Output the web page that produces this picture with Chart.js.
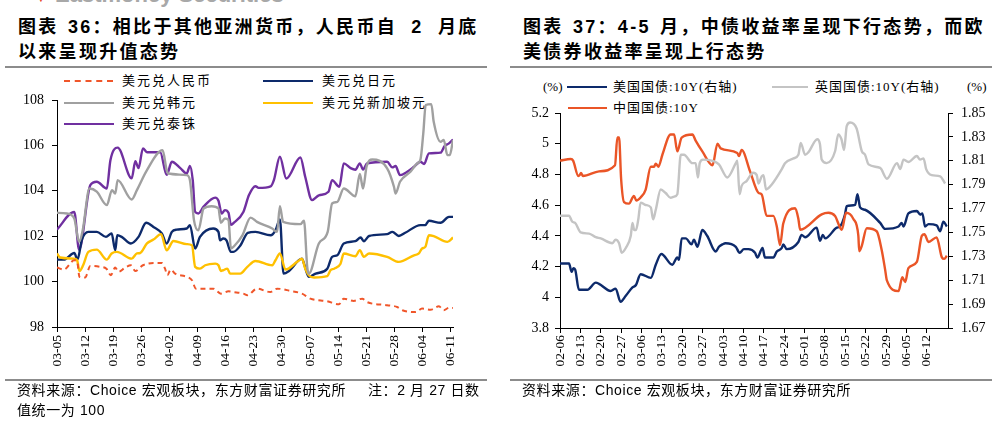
<!DOCTYPE html>
<html>
<head>
<meta charset="utf-8">
<script src="https://cdn.jsdelivr.net/npm/chart.js@4.4.1/dist/chart.umd.min.js"></script>
<style>
  body { margin: 0; background: #fff; }
  #page { position: relative; width: 997px; height: 422px; overflow: hidden; font-family: "Liberation Serif", "Noto Sans CJK SC", serif; color: #000; }
  .abs { position: absolute; white-space: nowrap; }
  .title { font-family: "Liberation Sans", "Noto Sans CJK SC", sans-serif; font-weight: bold; font-size: 18px; letter-spacing: 2.3px; word-spacing: 2px; line-height: 25px; }
  .gap { display: inline-block; width: 5px; }
  .rule { position: absolute; height: 2px; background: #8c8c8c; }
  .lg { position: absolute; font-size: 13px; letter-spacing: 2px; line-height: 16px; height: 16px; white-space: nowrap; }
  .sw { position: absolute; height: 0; }
  .src { font-family: "Liberation Sans", "Noto Sans CJK SC", sans-serif; font-size: 14px; letter-spacing: 0.6px; line-height: 18px; }
  canvas { position: absolute; top: 0; }
</style>
</head>
<body>
<div id="page">
  <div class="abs" style="left:36px;top:-7px;color:#e8452c;font-size:10px;">&#9660;</div>
  <div class="abs" style="left:55px;top:-18px;color:#a8a8a8;font:bold 22px 'Liberation Sans',sans-serif;">Eastmoney Securities</div>

  <div class="abs title" style="left:18px;top:15px;">图表 36：相比于其他亚洲货币，人民币自<span class="gap"></span> 2 <span class="gap"></span>月底<br>以来呈现升值态势</div>
  <div class="abs title" style="left:523px;top:15px;">图表 37：4-5 月，中债收益率呈现下行态势，而欧<br>美债券收益率呈现上行态势</div>
  <div class="rule" style="left:5px;top:66px;width:482px;"></div>
  <div class="rule" style="left:510px;top:66px;width:482px;"></div>

  <!-- left legend -->
  <div class="sw" style="left:64px;top:80px;width:49px;border-top:2px dashed #f0562a;"></div>
  <div class="lg" style="left:122px;top:73px;">美元兑人民币</div>
  <div class="sw" style="left:263px;top:80px;width:50px;border-top:2.5px solid #0d2a6b;"></div>
  <div class="lg" style="left:322px;top:73px;">美元兑日元</div>
  <div class="sw" style="left:64px;top:102px;width:50px;border-top:2.5px solid #a0a0a0;"></div>
  <div class="lg" style="left:122px;top:95px;">美元兑韩元</div>
  <div class="sw" style="left:263px;top:102px;width:50px;border-top:2.5px solid #ffc000;"></div>
  <div class="lg" style="left:322px;top:95px;">美元兑新加坡元</div>
  <div class="sw" style="left:64px;top:123px;width:50px;border-top:2.5px solid #7030a0;"></div>
  <div class="lg" style="left:122px;top:116px;">美元兑泰铢</div>

  <!-- right legend -->
  <div class="lg" style="left:543px;top:79px;letter-spacing:0;">(%)</div>
  <div class="sw" style="left:567px;top:86px;width:40px;border-top:2.5px solid #0d2a6b;"></div>
  <div class="lg" style="left:613px;top:79px;letter-spacing:1px;">美国国债:10Y(右轴)</div>
  <div class="sw" style="left:772px;top:86px;width:36px;border-top:2.5px solid #c4c4c4;"></div>
  <div class="lg" style="left:815px;top:79px;letter-spacing:1px;">英国国债:10Y(右轴)</div>
  <div class="lg" style="left:967px;top:79px;letter-spacing:0;">(%)</div>
  <div class="sw" style="left:568px;top:107px;width:39px;border-top:2.5px solid #ea5527;"></div>
  <div class="lg" style="left:613px;top:100px;letter-spacing:1px;">中国国债:10Y</div>

  <canvas id="leftChart" width="497" height="422" style="left:0;"></canvas>
  <canvas id="rightChart" width="497" height="422" style="left:500px;"></canvas>

  <div class="rule" style="left:5px;top:379px;width:482px;"></div>
  <div class="rule" style="left:510px;top:379px;width:482px;"></div>
  <div class="abs src" style="left:17px;top:381px;">资料来源：Choice 宏观板块，东方财富证券研究所</div>
  <div class="abs src" style="left:368px;top:381px;">注：2 月 27 日数</div>
  <div class="abs src" style="left:17px;top:401px;">值统一为 100</div>
  <div class="abs src" style="left:522px;top:381px;">资料来源：Choice 宏观板块，东方财富证券研究所</div>
</div>

<script>
// ---- left chart: day offset from 03-05, index (2/27 = 100)
const leftTickLabels = ['03-05','03-12','03-19','03-26','04-02','04-09','04-16','04-23','04-30','05-07','05-14','05-21','05-28','06-04','06-11']
const leftYTicks = [98, 100, 102, 104, 106, 108]

const cnyPts = [[0,100.62],[1.7,100.53],[4.3,100.94],[5.0,100.9],[5.6,100.21],[7,100.18],[8.3,100.69],[10.8,100.65],[12.3,100.57],[13.4,100.28],[14.5,100.62],[15.3,100.43],[17,100.62],[18.4,100.72],[19.5,100.47],[21.4,100.72],[24,100.82],[26.1,100.82],[26.9,100.57],[27.5,100.28],[28.3,100.53],[29.4,100.35],[32.3,100.21],[33.6,100.06],[34.6,99.69],[36.5,99.69],[38.9,99.69],[40.8,99.47],[42.7,99.57],[43.9,99.54],[46.4,99.47],[47.4,99.4],[49.8,99.69],[53.1,99.54],[54.8,99.69],[58.1,99.59],[61,99.47],[63.1,99.25],[67.3,99.13],[70.2,99.0],[71.4,99.25],[73.9,99.15],[76,99.25],[77.2,99.1],[82.2,98.96],[84.7,98.88],[86,98.74],[89.3,98.66],[90.9,98.81],[93,98.76],[95.1,98.91],[96.3,98.74],[97.6,98.85],[98.6,98.84]]

const jpyPts = [[0,100.97],[1.7,100.97],[4.3,101.26],[5.1,100.97],[6.2,101.85],[7.8,102.19],[9.9,102.19],[12.2,101.97],[13.6,102.12],[14.5,101.38],[15,102.04],[16.1,101.97],[18.4,101.68],[20.3,101.97],[22.2,102.59],[24,102.41],[26.1,102.12],[27.3,101.68],[28.6,102.19],[29.8,102.29],[32.3,102.34],[33.1,102.49],[34.4,101.46],[35.6,101.97],[38.9,102.34],[40.2,102.19],[40.6,101.82],[41.4,101.9],[42.2,101.82],[43.3,101.31],[43.9,101.31],[45.7,101.6],[47.5,102.15],[49.4,102.19],[53.2,102.04],[54.4,102.26],[55.5,102.74],[56.4,100.35],[57.7,100.46],[61,101.01],[61.5,100.79],[62.7,100.21],[64.4,100.35],[67.3,100.57],[68.5,101.09],[69.8,101.16],[71.4,101.68],[74.3,101.78],[75.6,101.94],[76.4,101.78],[77.7,102.01],[82.2,102.09],[83.5,102.19],[85.1,102.01],[86.7,102.15],[90.5,102.49],[91.7,102.49],[92.6,102.68],[95.5,102.59],[97.6,102.85],[98.6,102.85]]

const krwPts = [[0,103.03],[2.5,103.0],[4.3,102.78],[5.5,101.75],[6.4,102.26],[8.1,104.1],[9.9,103.96],[12.4,103.37],[13.7,104.03],[14.5,103.88],[15.1,104.47],[18.6,103.62],[19.9,104.03],[22.4,104.91],[26.3,105.79],[27.3,104.91],[27.7,104.76],[32.3,104.69],[33.1,104.47],[34.1,102.71],[35.2,102.26],[36.5,103.22],[38.5,103.32],[40.2,103.22],[40.8,102.59],[41.8,102.78],[42.7,102.71],[43.3,101.46],[44.3,101.6],[46.2,102.05],[48.2,102.82],[49.8,102.63],[53.6,102.34],[54.8,102.19],[55.5,103.32],[56.3,102.63],[60.6,102.53],[61.5,102.68],[62.3,100.65],[62.7,100.35],[65.2,101.68],[67.4,102.19],[68.5,103.44],[69.8,103.51],[71.4,104.1],[74.3,103.76],[75.4,104.74],[76.2,104.1],[77.1,105.09],[78.5,105.38],[82.2,104.99],[83.9,104.18],[84.3,103.88],[85.4,104.4],[88,104.84],[89.7,105.21],[90.5,105.38],[91.2,106.53],[91.8,107.78],[93.2,107.82],[93.8,107.04],[95.5,106.16],[96.3,106.24],[97.2,105.57],[97.8,105.57],[98.6,106.24]]

const sgdPts = [[0,101.24],[0.8,101.06],[4.2,101.01],[5.0,100.94],[5.6,100.47],[6.5,100.72],[7.8,101.31],[9.9,101.41],[12.4,100.97],[13.6,101.24],[14.9,101.31],[18.6,101.01],[19.9,101.24],[20.7,101.26],[22.4,101.68],[24,101.85],[25.9,102.09],[27.3,101.38],[29,101.79],[32.3,101.65],[33.6,101.6],[34.4,100.65],[35.6,100.57],[36.9,100.72],[39.4,100.79],[40.2,100.72],[40.8,100.47],[41.4,100.5],[42.4,100.57],[43.1,100.35],[45.6,100.35],[47.4,100.65],[49.4,100.91],[53.6,100.72],[54.4,100.94],[55.5,101.24],[56.9,100.53],[59.8,100.87],[61,101.01],[61.8,100.57],[62.7,100.28],[64,100.18],[67.3,100.24],[68.1,100.5],[69,100.57],[70.6,100.79],[71.4,101.24],[74.3,101.12],[75.4,101.38],[76.4,101.09],[77.7,101.24],[82.2,101.09],[85.1,100.87],[88.9,101.16],[90.1,101.24],[90.9,101.46],[91.7,101.53],[92.6,102.04],[93.8,102.0],[97.2,101.75],[98.6,101.94]]

const thbPts = [[0,102.29],[4.3,103.07],[5.5,101.4],[8.3,104.25],[9.9,104.4],[12.4,104.1],[13.3,105.35],[15.1,105.9],[18.6,104.55],[19.5,105.3],[20.3,105.0],[21.4,105.87],[22.4,105.7],[25.7,105.7],[27.3,104.7],[28.6,105.28],[30.7,105.0],[32.3,104.76],[33.1,105.1],[33.8,104.47],[34.4,103.07],[35.2,103.0],[36.5,103.3],[39.4,103.7],[40.2,103.56],[41.0,103.0],[41.8,103.15],[42.7,103.03],[43.3,102.5],[43.9,102.57],[46.4,103.07],[47.8,103.81],[49.4,104.2],[50.2,104.13],[53.2,104.2],[54,104.47],[55.5,105.5],[57.1,104.54],[60.6,105.47],[61.8,104.62],[63.5,103.59],[65.2,103.8],[67.6,103.96],[68.5,104.47],[70.3,104.18],[71.4,105.21],[73.1,105.0],[74.3,104.93],[75.4,105.21],[76.2,104.94],[77.2,105.21],[82.2,105.28],[83.5,105.03],[84.3,105.09],[85.4,104.69],[87.2,104.84],[88.9,105.06],[90.5,105.28],[91.4,105.18],[92.6,105.65],[95.5,105.68],[96.5,105.97],[97.6,106.09],[98.6,106.26]]

// ---- right chart: day offset from 02-06, yields %
const rightTickLabels = ['02-06','02-13','02-20','02-27','03-06','03-13','03-20','03-27','04-03','04-10','04-17','04-24','05-01','05-08','05-15','05-22','05-29','06-05','06-12']
const cnAxisTicks = [3.8, 4, 4.2, 4.4, 4.6, 4.8, 5, 5.2]
const usAxisTicks = [1.67, 1.69, 1.71, 1.73, 1.75, 1.77, 1.79, 1.81, 1.83, 1.85]

const cnPts = [[0,4.89],[3.7,4.9],[4.5,4.89],[6.3,4.79],[6.9,4.8],[7.2,4.81],[7.9,4.79],[13.4,4.82],[18.9,4.86],[19.7,5.04],[20.3,5.04],[21.0,4.77],[22.0,4.62],[23.7,4.61],[25.4,4.66],[26.2,4.63],[27.7,4.65],[29.4,4.7],[31.2,4.85],[32.3,4.85],[32.9,4.87],[33.8,4.85],[35.2,4.93],[38.0,5.06],[39.2,5.06],[40.3,4.95],[41.8,5.04],[45.5,5.06],[46.6,5.02],[48.9,4.95],[52.4,4.86],[54.1,5.0],[55.2,4.97],[60.9,4.94],[61.5,4.92],[62.4,4.96],[65.3,4.82],[68.2,4.68],[69.3,4.67],[71,4.53],[73.3,4.53],[74.5,4.46],[75.6,4.34],[76.7,4.48],[80.8,4.58],[81.9,4.51],[82.5,4.44],[89.9,4.54],[92.2,4.55],[94.5,4.53],[96.8,4.44],[98.3,4.55],[100.8,4.51],[102.5,4.4],[102.8,4.3],[103.6,4.33],[105.4,4.45],[108.8,4.43],[110.5,4.31],[111.7,4.18],[112.3,4.11],[116.3,4.04],[117.6,4.13],[118.6,4.1],[119.7,4.19],[122.6,4.23],[124.3,4.4],[125.2,4.41],[126.6,4.36],[129.4,4.39],[131.2,4.26],[132,4.25],[132.9,4.27]]

const usPts = [[0,1.724],[3.1,1.724],[4.0,1.717],[4.6,1.72],[5.2,1.719],[6.5,1.702],[9.4,1.702],[12.3,1.708],[13.4,1.707],[17.4,1.701],[19.1,1.703],[20.8,1.692],[22.6,1.697],[24.9,1.704],[26.1,1.706],[27.7,1.715],[31.2,1.712],[32.9,1.723],[34.8,1.732],[38.6,1.723],[40.3,1.729],[40.9,1.727],[41.8,1.745],[43.2,1.745],[45.2,1.74],[46.0,1.744],[47.2,1.738],[48.9,1.752],[50.6,1.747],[53.5,1.734],[54.6,1.738],[55.8,1.74],[56.9,1.741],[60.4,1.738],[61.7,1.733],[63.2,1.736],[64.7,1.736],[67,1.733],[67.8,1.729],[69.6,1.737],[70.4,1.729],[73.3,1.729],[74.5,1.734],[76.2,1.737],[76.7,1.74],[77.9,1.736],[81.9,1.742],[83,1.748],[84.2,1.746],[88.2,1.754],[89.3,1.743],[90.3,1.748],[91.1,1.745],[95.1,1.754],[96.2,1.755],[97.9,1.765],[98.5,1.772],[101.4,1.773],[102.2,1.782],[103.1,1.771],[104.8,1.769],[110,1.758],[111.7,1.753],[116.3,1.755],[117.4,1.758],[118,1.755],[119.7,1.766],[122.6,1.768],[123.7,1.765],[124.5,1.766],[125.4,1.755],[126.6,1.757],[129.4,1.756],[130.6,1.751],[131.7,1.759],[132.9,1.755]]

const ukPts = [[0,1.764],[3.1,1.764],[4.2,1.759],[5.2,1.758],[7.1,1.75],[10,1.749],[12.3,1.746],[14,1.745],[18,1.741],[19.1,1.744],[20.3,1.741],[21.2,1.733],[22.6,1.737],[24.3,1.747],[24.9,1.758],[25.5,1.752],[26.1,1.752],[26.9,1.761],[27.7,1.775],[29.4,1.773],[31.2,1.771],[32,1.761],[32.9,1.769],[34.6,1.786],[36.3,1.783],[38,1.779],[39.2,1.78],[40.3,1.782],[41.5,1.815],[42.6,1.815],[45.5,1.808],[46.6,1.808],[47.4,1.796],[48,1.808],[49.1,1.811],[52.4,1.81],[54.6,1.807],[57.5,1.796],[60.4,1.808],[60.9,1.81],[61.7,1.782],[62.4,1.789],[64.1,1.793],[66.4,1.8],[67.6,1.798],[68.2,1.791],[69.3,1.797],[69.9,1.798],[70.8,1.786],[72.7,1.79],[76.2,1.803],[77.3,1.808],[80.2,1.812],[81.9,1.815],[82.7,1.825],[84.2,1.815],[85.3,1.817],[88.4,1.828],[89.3,1.824],[89.9,1.811],[91.6,1.808],[94.5,1.818],[95.6,1.832],[96.7,1.828],[97.6,1.819],[98.5,1.839],[99.7,1.842],[101.9,1.837],[103.7,1.818],[104.8,1.815],[106,1.807],[110,1.804],[112.3,1.795],[115.8,1.808],[116.9,1.803],[118,1.811],[119.7,1.809],[122.6,1.814],[123.7,1.811],[124.9,1.812],[125.8,1.803],[127.7,1.798],[130.6,1.797],[132.3,1.791]]

const tickFont = { family: '"Liberation Serif", serif', size: 14 }
const xFont = { family: '"Liberation Serif", serif', size: 13.5 }

function toXY(pts) {
  return pts.map(p => ({ x: p[0], y: p[1] }))
}

function lineSet(pts, color, extra) {
  return Object.assign({
    data: toXY(pts),
    borderColor: color,
    backgroundColor: color,
    borderWidth: 2.4,
    pointRadius: 0,
    fill: false,
    cubicInterpolationMode: 'monotone'
  }, extra || {})
}

// axis with only outward tick marks, no grid
function axisGrid() {
  return { display: true, drawOnChartArea: false, drawTicks: true, tickLength: 5, color: '#000', lineWidth: 1 }
}

function dateAxis(labels, max, height, pad) {
  return {
    type: 'linear',
    min: 0,
    max: max,
    grid: axisGrid(),
    border: { display: true, color: '#000', width: 1 },
    afterBuildTicks: s => { s.ticks = labels.map((_, i) => ({ value: i * 7 })) },
    afterFit: s => { s.height = height },
    ticks: {
      autoSkip: false,
      minRotation: 90,
      maxRotation: 90,
      padding: pad,
      color: '#000',
      font: xFont,
      callback: v => labels[Math.round(v / 7)]
    }
  }
}

function valueAxis(pos, tickVals, width, fmt, pad) {
  return {
    type: 'linear',
    position: pos,
    min: tickVals[0],
    max: tickVals[tickVals.length - 1],
    grid: axisGrid(),
    border: { display: true, color: '#000', width: 1 },
    afterBuildTicks: s => { s.ticks = tickVals.map(v => ({ value: v })) },
    afterFit: s => { s.width = width },
    ticks: { color: '#000', font: tickFont, padding: pad, callback: fmt }
  }
}

new Chart(document.getElementById('leftChart'), {
  type: 'line',
  data: {
    datasets: [
      lineSet(cnyPts, '#f0562a', { borderDash: [5, 4], borderWidth: 2 }),
      lineSet(krwPts, '#a0a0a0'),
      lineSet(sgdPts, '#ffc000'),
      lineSet(jpyPts, '#0d2a6b'),
      lineSet(thbPts, '#7030a0')
    ]
  },
  options: {
    responsive: false,
    animation: false,
    layout: { padding: { left: 0, top: 100, right: 44, bottom: 45 } },
    plugins: { legend: { display: false }, tooltip: { enabled: false } },
    scales: {
      x: dateAxis(leftTickLabels, 98.6, 50, 3),
      y: valueAxis('left', leftYTicks, 57, v => String(v), 8)
    }
  }
})

new Chart(document.getElementById('rightChart'), {
  type: 'line',
  data: {
    datasets: [
      lineSet(ukPts, '#c4c4c4', { yAxisID: 'y1' }),
      lineSet(cnPts, '#ea5527', { yAxisID: 'y' }),
      lineSet(usPts, '#0d2a6b', { yAxisID: 'y1' })
    ]
  },
  options: {
    responsive: false,
    animation: false,
    layout: { padding: { left: 0, top: 113, right: 4, bottom: 44 } },
    plugins: { legend: { display: false }, tooltip: { enabled: false } },
    scales: {
      x: dateAxis(rightTickLabels, 133.3, 50, 2),
      y: valueAxis('left', cnAxisTicks, 60, v => String(Math.round(v * 10) / 10), 6),
      y1: valueAxis('right', usAxisTicks, 45, v => v.toFixed(2), 8)
    }
  }
})
</script>
</body>
</html>
